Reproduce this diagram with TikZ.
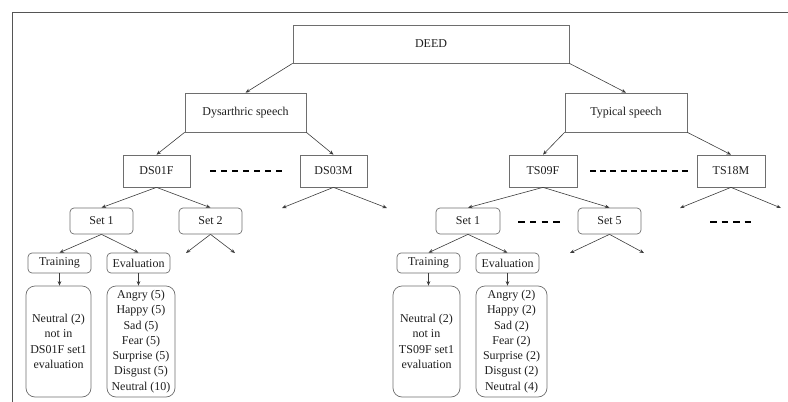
\documentclass[tikz,border=0pt]{standalone}
\usepackage{fontspec}
\setmainfont{Liberation Serif}
\usetikzlibrary{arrows.meta,calc}
\definecolor{boxgray}{HTML}{6E6E6E}
\definecolor{linegray}{HTML}{3C3C3C}
\definecolor{framegray}{HTML}{555555}
\definecolor{txt}{HTML}{1E1E1E}
\begin{document}
\begin{tikzpicture}[x=1pt,y=-1pt,
  box/.style={draw=boxgray, line width=0.7pt, inner sep=0pt, text=txt,
    font=\fontsize{12}{15.3}\selectfont, align=center},
  sq/.style={box},
  rbox/.style={box, rounded corners=4pt},
  bigbox/.style={box, rounded corners=9pt},
  arr/.style={draw=linegray, line width=0.6pt, -{Stealth[length=4.5pt,width=3.6pt]}},
  dots/.style={draw=black, line width=1.8pt}]
\useasboundingbox (0,0) rectangle (788,402);
\draw[framegray, line width=0.8pt] (788,12) -- (12,12) -- (12,402);

% level 0 and 1
\node[sq, minimum width=276pt, minimum height=38pt] (deed) at (431,44) {DEED};
\node[sq, minimum width=121pt, minimum height=39pt] (dys) at (245.5,112.5) {Dysarthric speech};
\node[sq, minimum width=122pt, minimum height=39pt] (typ) at (626,112.5) {Typical speech};
\draw[arr] (deed.south west) -- (dys.north);
\draw[arr] (deed.south east) -- (typ.north);

% level 2
\node[sq, minimum width=67pt, minimum height=32pt] (ds01) at (156.5,171) {DS01F};
\node[sq, minimum width=67pt, minimum height=32pt] (ds03) at (333.5,171) {DS03M};
\node[sq, minimum width=68pt, minimum height=32pt] (ts09) at (543,171) {TS09F};
\node[sq, minimum width=68pt, minimum height=32pt] (ts18) at (731,171) {TS18M};
\draw[arr] (dys.south west) -- (ds01.north);
\draw[arr] (dys.south east) -- (ds03.north);
\draw[arr] (typ.south west) -- (ts09.north);
\draw[arr] (typ.south east) -- (ts18.north);
\draw[dots, dash pattern=on 6pt off 5pt] (210,171) -- (282,171);
\draw[dots, dash pattern=on 6pt off 4.2pt] (590,171) -- (688,171);

% level 3
\node[rbox, minimum width=63pt, minimum height=26pt] (s1a) at (101.5,221) {Set 1};
\node[rbox, minimum width=63pt, minimum height=26pt] (s2a) at (210.5,221) {Set 2};
\node[rbox, minimum width=64pt, minimum height=26pt] (s1b) at (468,221) {Set 1};
\node[rbox, minimum width=63pt, minimum height=26pt] (s5b) at (609.5,221) {Set 5};
\draw[arr] (ds01.south) -- (s1a.north);
\draw[arr] (ds01.south) -- (s2a.north);
\draw[arr] (ts09.south) -- (s1b.north);
\draw[arr] (ts09.south) -- (s5b.north);
\coordinate (d3l) at (282,208);
\coordinate (d3r) at (387,208);
\coordinate (t18l) at (680,208);
\coordinate (t18r) at (781,208);
\draw[arr] (ds03.south) -- (d3l);
\draw[arr] (ds03.south) -- (d3r);
\draw[arr] (ts18.south) -- (t18l);
\draw[arr] (ts18.south) -- (t18r);
\draw[dots, dash pattern=on 6.5pt off 5.3pt] (518,222) -- (560,222);
\draw[dots, dash pattern=on 6.5pt off 5pt] (710,222) -- (751,222);

% level 4
\node[rbox, minimum width=63pt, minimum height=20pt] (tra) at (59.5,263) {Training};
\node[rbox, minimum width=63pt, minimum height=20pt] (eva) at (138.5,263) {Evaluation};
\node[rbox, minimum width=63pt, minimum height=20pt] (trb) at (428.5,263) {Training};
\node[rbox, minimum width=63pt, minimum height=20pt] (evb) at (507.5,263) {Evaluation};
\draw[arr] (s1a.south) -- (tra.north);
\draw[arr] (s1a.south) -- (eva.north);
\draw[arr] (s1b.south) -- (trb.north);
\draw[arr] (s1b.south) -- (evb.north);
\coordinate (s2l) at (186,253);
\coordinate (s2r) at (235,253);
\coordinate (s5l) at (570,253);
\coordinate (s5r) at (644,253);
\draw[arr] (s2a.south) -- (s2l);
\draw[arr] (s2a.south) -- (s2r);
\draw[arr] (s5b.south) -- (s5l);
\draw[arr] (s5b.south) -- (s5r);

% level 5
\node[bigbox, minimum width=65pt, minimum height=111pt] (na) at (58.5,341.5)
  {Neutral (2)\\not in\\DS01F set1\\evaluation};
\node[bigbox, minimum width=68pt, minimum height=111pt] (la) at (141,341.5)
  {Angry (5)\\Happy (5)\\Sad (5)\\Fear (5)\\Surprise (5)\\Disgust (5)\\Neutral (10)};
\node[bigbox, minimum width=67pt, minimum height=111pt] (nb) at (426.5,341.5)
  {Neutral (2)\\not in\\TS09F set1\\evaluation};
\node[bigbox, minimum width=71pt, minimum height=111pt] (lb) at (511.5,341.5)
  {Angry (2)\\Happy (2)\\Sad (2)\\Fear (2)\\Surprise (2)\\Disgust (2)\\Neutral (4)};
\draw[arr] (tra.south) -- (tra.south |- na.north);
\draw[arr] (eva.south) -- (eva.south |- la.north);
\draw[arr] (trb.south) -- (trb.south |- nb.north);
\draw[arr] (evb.south) -- (evb.south |- lb.north);
\end{tikzpicture}
\end{document}
